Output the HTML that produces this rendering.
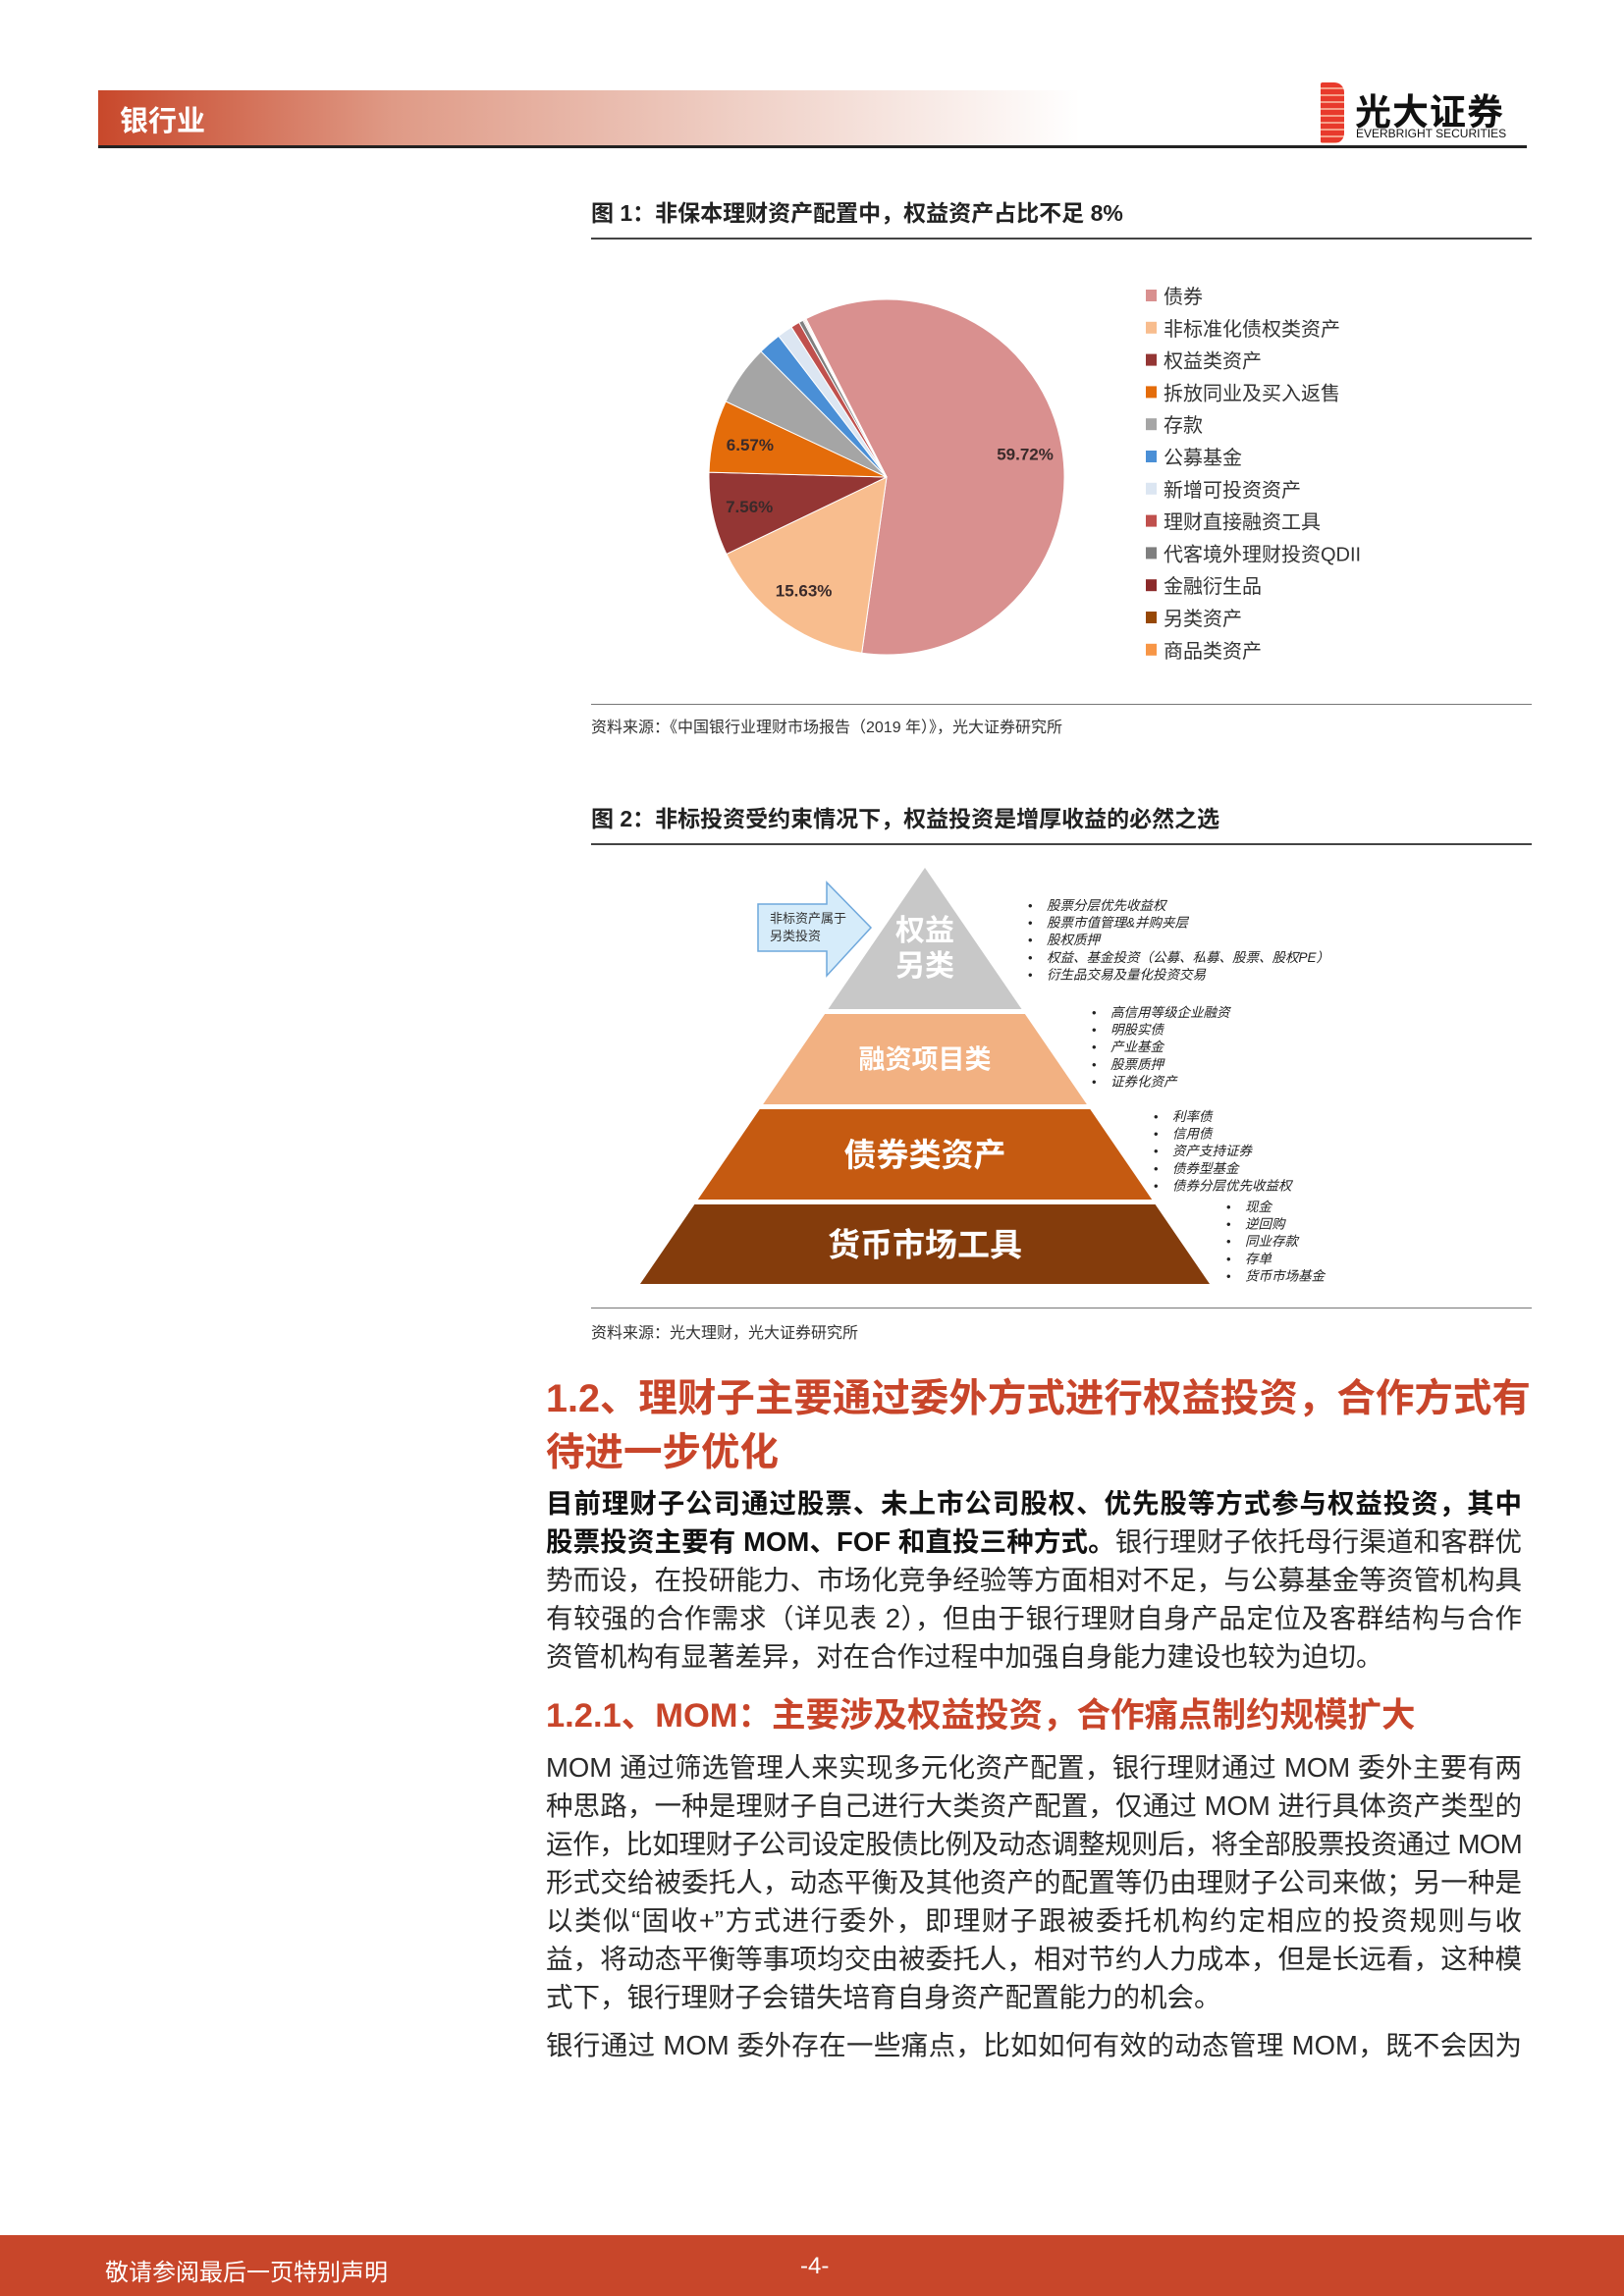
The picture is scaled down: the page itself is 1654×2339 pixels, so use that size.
<!DOCTYPE html>
<html><head><meta charset="utf-8">
<style>
*{margin:0;padding:0;box-sizing:border-box}
body{width:1654px;height:2339px;position:relative;background:#fff;font-family:"Liberation Sans","Noto Sans CJK SC",sans-serif;color:#222;overflow:hidden}
.abs{position:absolute}
.line{position:absolute;left:556px;width:994px;font-size:27.5px;line-height:39px;white-space:nowrap;text-align:justify;text-align-last:justify;color:#2a2a2a}
.line.last{text-align-last:left}
.b{font-weight:bold;color:#111}
.h{position:absolute;left:556px;color:#c8452a;font-weight:bold;white-space:nowrap}
.src{position:absolute;left:602px;font-size:16px;color:#333}
.ft{position:absolute;left:602px;font-size:23px;font-weight:bold;color:#222}
.rule{position:absolute;left:602px;width:958px;height:2px;background:#444}
.rule2{position:absolute;left:602px;width:958px;height:1px;background:#777}
</style></head><body>
<div class="abs" style="left:100px;top:92px;width:1000px;height:57px;background:linear-gradient(90deg,#c8482b 0%,#df9a86 30%,#efcfc5 65%,#fff 100%)"></div>
<div class="abs" style="left:122px;top:100px;font-size:29px;font-weight:bold;color:#fff">银行业</div>
<div class="abs" style="left:100px;top:148px;width:1455px;height:3px;background:#222"></div>
<div class="abs" style="left:1345px;top:84px;width:24px;height:62px;background:repeating-linear-gradient(180deg,#e83a2c 0 5px,#f6a08a 5px 7px);border-radius:2px 10px 10px 2px"></div>
<div class="abs" style="left:1380px;top:84px;font-size:37px;font-weight:bold;color:#111;letter-spacing:1px">光大证券</div>
<div class="abs" style="left:1381px;top:129px;font-size:12px;color:#111">EVERBRIGHT SECURITIES</div>

<div class="ft" style="top:198px">图 1：非保本理财资产配置中，权益资产占比不足 8%</div>
<div class="rule" style="top:242px"></div>
<svg class="abs" style="left:602px;top:250px" width="958" height="460" id="pie"></svg>
<div class="rule2" style="top:717px"></div>
<div class="src" style="top:727px">资料来源：《中国银行业理财市场报告（2019 年）》，光大证券研究所</div>

<div class="ft" style="top:815px">图 2：非标投资受约束情况下，权益投资是增厚收益的必然之选</div>
<div class="rule" style="top:859px"></div>
<svg class="abs" style="left:602px;top:862px" width="958" height="468" id="pyr"></svg>
<div class="rule2" style="top:1332px"></div>
<div class="src" style="top:1344px">资料来源：光大理财，光大证券研究所</div>

<div class="h" style="top:1398px;font-size:39.5px;line-height:55px">1.2、理财子主要通过委外方式进行权益投资，合作方式有<br>待进一步优化</div>
<div class="line" style="top:1512px"><span class="b">目前理财子公司通过股票、未上市公司股权、优先股等方式参与权益投资，其中</span></div>
<div class="line" style="top:1551px"><span class="b">股票投资主要有 MOM、FOF 和直投三种方式。</span>银行理财子依托母行渠道和客群优</div>
<div class="line" style="top:1590px">势而设，在投研能力、市场化竞争经验等方面相对不足，与公募基金等资管机构具</div>
<div class="line" style="top:1629px">有较强的合作需求（详见表 2），但由于银行理财自身产品定位及客群结构与合作</div>
<div class="line last" style="top:1668px">资管机构有显著差异，对在合作过程中加强自身能力建设也较为迫切。</div>

<div class="h" style="top:1728px;font-size:34.5px;line-height:40px">1.2.1、MOM：主要涉及权益投资，合作痛点制约规模扩大</div>
<div class="line" style="top:1781px">MOM 通过筛选管理人来实现多元化资产配置，银行理财通过 MOM 委外主要有两</div>
<div class="line" style="top:1820px">种思路，一种是理财子自己进行大类资产配置，仅通过 MOM 进行具体资产类型的</div>
<div class="line" style="top:1859px;letter-spacing:-0.6px">运作，比如理财子公司设定股债比例及动态调整规则后，将全部股票投资通过 MOM</div>
<div class="line" style="top:1898px">形式交给被委托人，动态平衡及其他资产的配置等仍由理财子公司来做；另一种是</div>
<div class="line" style="top:1937px">以类似“固收+”方式进行委外，即理财子跟被委托机构约定相应的投资规则与收</div>
<div class="line" style="top:1976px">益，将动态平衡等事项均交由被委托人，相对节约人力成本，但是长远看，这种模</div>
<div class="line last" style="top:2015px">式下，银行理财子会错失培育自身资产配置能力的机会。</div>
<div class="line" style="top:2064px">银行通过 MOM 委外存在一些痛点，比如如何有效的动态管理 MOM，既不会因为</div>

<div class="abs" style="left:0;top:2277px;width:1654px;height:62px;background:#c8462a"></div>
<div class="abs" style="left:107px;top:2295px;font-size:24px;color:#fff">敬请参阅最后一页特别声明</div>
<div class="abs" style="left:815px;top:2295px;font-size:24px;color:#fff">-4-</div>

<script>
const categories=["债券","非标准化债权类资产","权益类资产","拆放同业及买入返售","存款","公募基金","新增可投资资产","理财直接融资工具","代客境外理财投资QDII","金融衍生品","另类资产","商品类资产"];
const values=[59.72,15.63,7.56,6.57,5.5,2.1,1.4,0.8,0.4,0.1,0.1,0.1];
const printedLabels=["59.72%","15.63%","7.56%","6.57%","","","","","","","",""];
const colors=["#d9908f","#f8bd8e","#943634","#e46c0a","#a5a5a5","#4a8fd6","#dce6f2","#c0504d","#7f7f7f","#8b2a2a","#974806","#f79646"];
const NS="http://www.w3.org/2000/svg";
const pie=document.getElementById('pie');
const cx=301,cy=236,R=181,startDeg=-27;
const total=values.reduce((a,b)=>a+b,0);
function pt(deg,r){const a=deg*Math.PI/180;return [cx+r*Math.sin(a),cy-r*Math.cos(a)];}
let acc=startDeg;
values.forEach((v,i)=>{
  const sweep=v/total*360,a0=acc,a1=acc+sweep;acc=a1;
  const p0=pt(a0,R),p1=pt(a1,R);
  const path=document.createElementNS(NS,'path');
  path.setAttribute('d',`M${cx},${cy}L${p0[0]},${p0[1]}A${R},${R} 0 ${sweep>180?1:0} 1 ${p1[0]},${p1[1]}Z`);
  path.setAttribute('fill',colors[i]);path.setAttribute('stroke','#fff');path.setAttribute('stroke-width','1');
  
  
  pie.appendChild(path);
  if(printedLabels[i]){
    const m=pt((a0+a1)/2,R*0.79);
    const t=document.createElementNS(NS,'text');
    t.setAttribute('x',m[0]);t.setAttribute('y',m[1]+6);t.setAttribute('text-anchor','middle');
    t.setAttribute('font-size','17');t.setAttribute('font-weight','bold');t.setAttribute('fill','#3a2a2a');
    t.textContent=printedLabels[i];
    
    
    pie.appendChild(t);
  }
});
categories.forEach((c,i)=>{
  const y=52+i*32.8;
  const r=document.createElementNS(NS,'rect');
  r.setAttribute('x',565);r.setAttribute('y',y-7);r.setAttribute('width',11);r.setAttribute('height',12);r.setAttribute('fill',colors[i]);
  
  
  pie.appendChild(r);
  const t=document.createElementNS(NS,'text');
  t.setAttribute('x',583);t.setAttribute('y',y+7);t.setAttribute('font-size','20');t.setAttribute('fill','#333');
  t.setAttribute('font-family','"Liberation Sans","Noto Sans CJK SC",sans-serif');
  t.textContent=c;
  
  
  pie.appendChild(t);
});

const pyr=document.getElementById('pyr');
const ax=340,ay=22,k=0.684;
const bands=[[22,166,"#c8c8c8"],[171,263,"#f2b182"],[268,360,"#c55a11"],[365,446,"#843c0c"]];
const bandText=[["权益","另类"],["融资项目类"],["债券类资产"],["货币市场工具"]];
const bandFont=[30,27,33,33];
bands.forEach((b,i)=>{
  const [y0,y1,col]=b;
  const p=document.createElementNS(NS,'polygon');
  p.setAttribute('points',`${ax-k*(y0-ay)},${y0} ${ax+k*(y0-ay)},${y0} ${ax+k*(y1-ay)},${y1} ${ax-k*(y1-ay)},${y1}`);
  p.setAttribute('fill',col);
  
  
  pyr.appendChild(p);
  const lines=bandText[i];
  lines.forEach((s,j)=>{
    const t=document.createElementNS(NS,'text');
    const mid=i===0?86+j*36:(y0+y1)/2+bandFont[i]*0.36;
    t.setAttribute('x',ax);t.setAttribute('y',i===0?mid+10:mid);t.setAttribute('text-anchor','middle');
    t.setAttribute('font-size',bandFont[i]);t.setAttribute('font-weight','bold');t.setAttribute('fill','#fff');
    t.setAttribute('font-family','"Liberation Sans","Noto Sans CJK SC",sans-serif');
    t.textContent=s;
    
    
    pyr.appendChild(t);
  });
});
const arrow=document.createElementNS(NS,'polygon');
arrow.setAttribute('points','170,59 240,59 240,37 285,83 240,132 240,107 170,107');
arrow.setAttribute('fill','#d6ecfa');arrow.setAttribute('stroke','#6fa8dc');arrow.setAttribute('stroke-width','1.5');


pyr.appendChild(arrow);
[["非标资产属于",78],["另类投资",96]].forEach(([s,y])=>{
  const t=document.createElementNS(NS,'text');
  t.setAttribute('x',182);t.setAttribute('y',y);t.setAttribute('font-size','13');t.setAttribute('fill','#333');
  t.textContent=s;
  
  
  pyr.appendChild(t);
});
const lists=[
 [445,60,["股票分层优先收益权","股票市值管理&并购夹层","股权质押","权益、基金投资（公募、私募、股票、股权PE）","衍生品交易及量化投资交易"]],
 [510,169,["高信用等级企业融资","明股实债","产业基金","股票质押","证券化资产"]],
 [573,275,["利率债","信用债","资产支持证券","债券型基金","债券分层优先收益权"]],
 [647,367,["现金","逆回购","同业存款","存单","货币市场基金"]]
];
lists.forEach(([x,y,items])=>{
  items.forEach((s,j)=>{
    const yy=y+j*17.6;
    const d=document.createElementNS(NS,'text');
    d.setAttribute('x',x);d.setAttribute('y',yy+5);d.setAttribute('font-size','13');d.setAttribute('fill','#222');d.textContent='•';
    
    
    pyr.appendChild(d);
    const t=document.createElementNS(NS,'text');
    t.setAttribute('x',x+19);t.setAttribute('y',yy+5);t.setAttribute('font-size','13.5');t.setAttribute('font-style','italic');t.setAttribute('fill','#222');
    t.setAttribute('font-family','"Liberation Sans","Noto Sans CJK SC",sans-serif');
    t.textContent=s;
    
    
    pyr.appendChild(t);
  });
});
</script>
</body></html>
